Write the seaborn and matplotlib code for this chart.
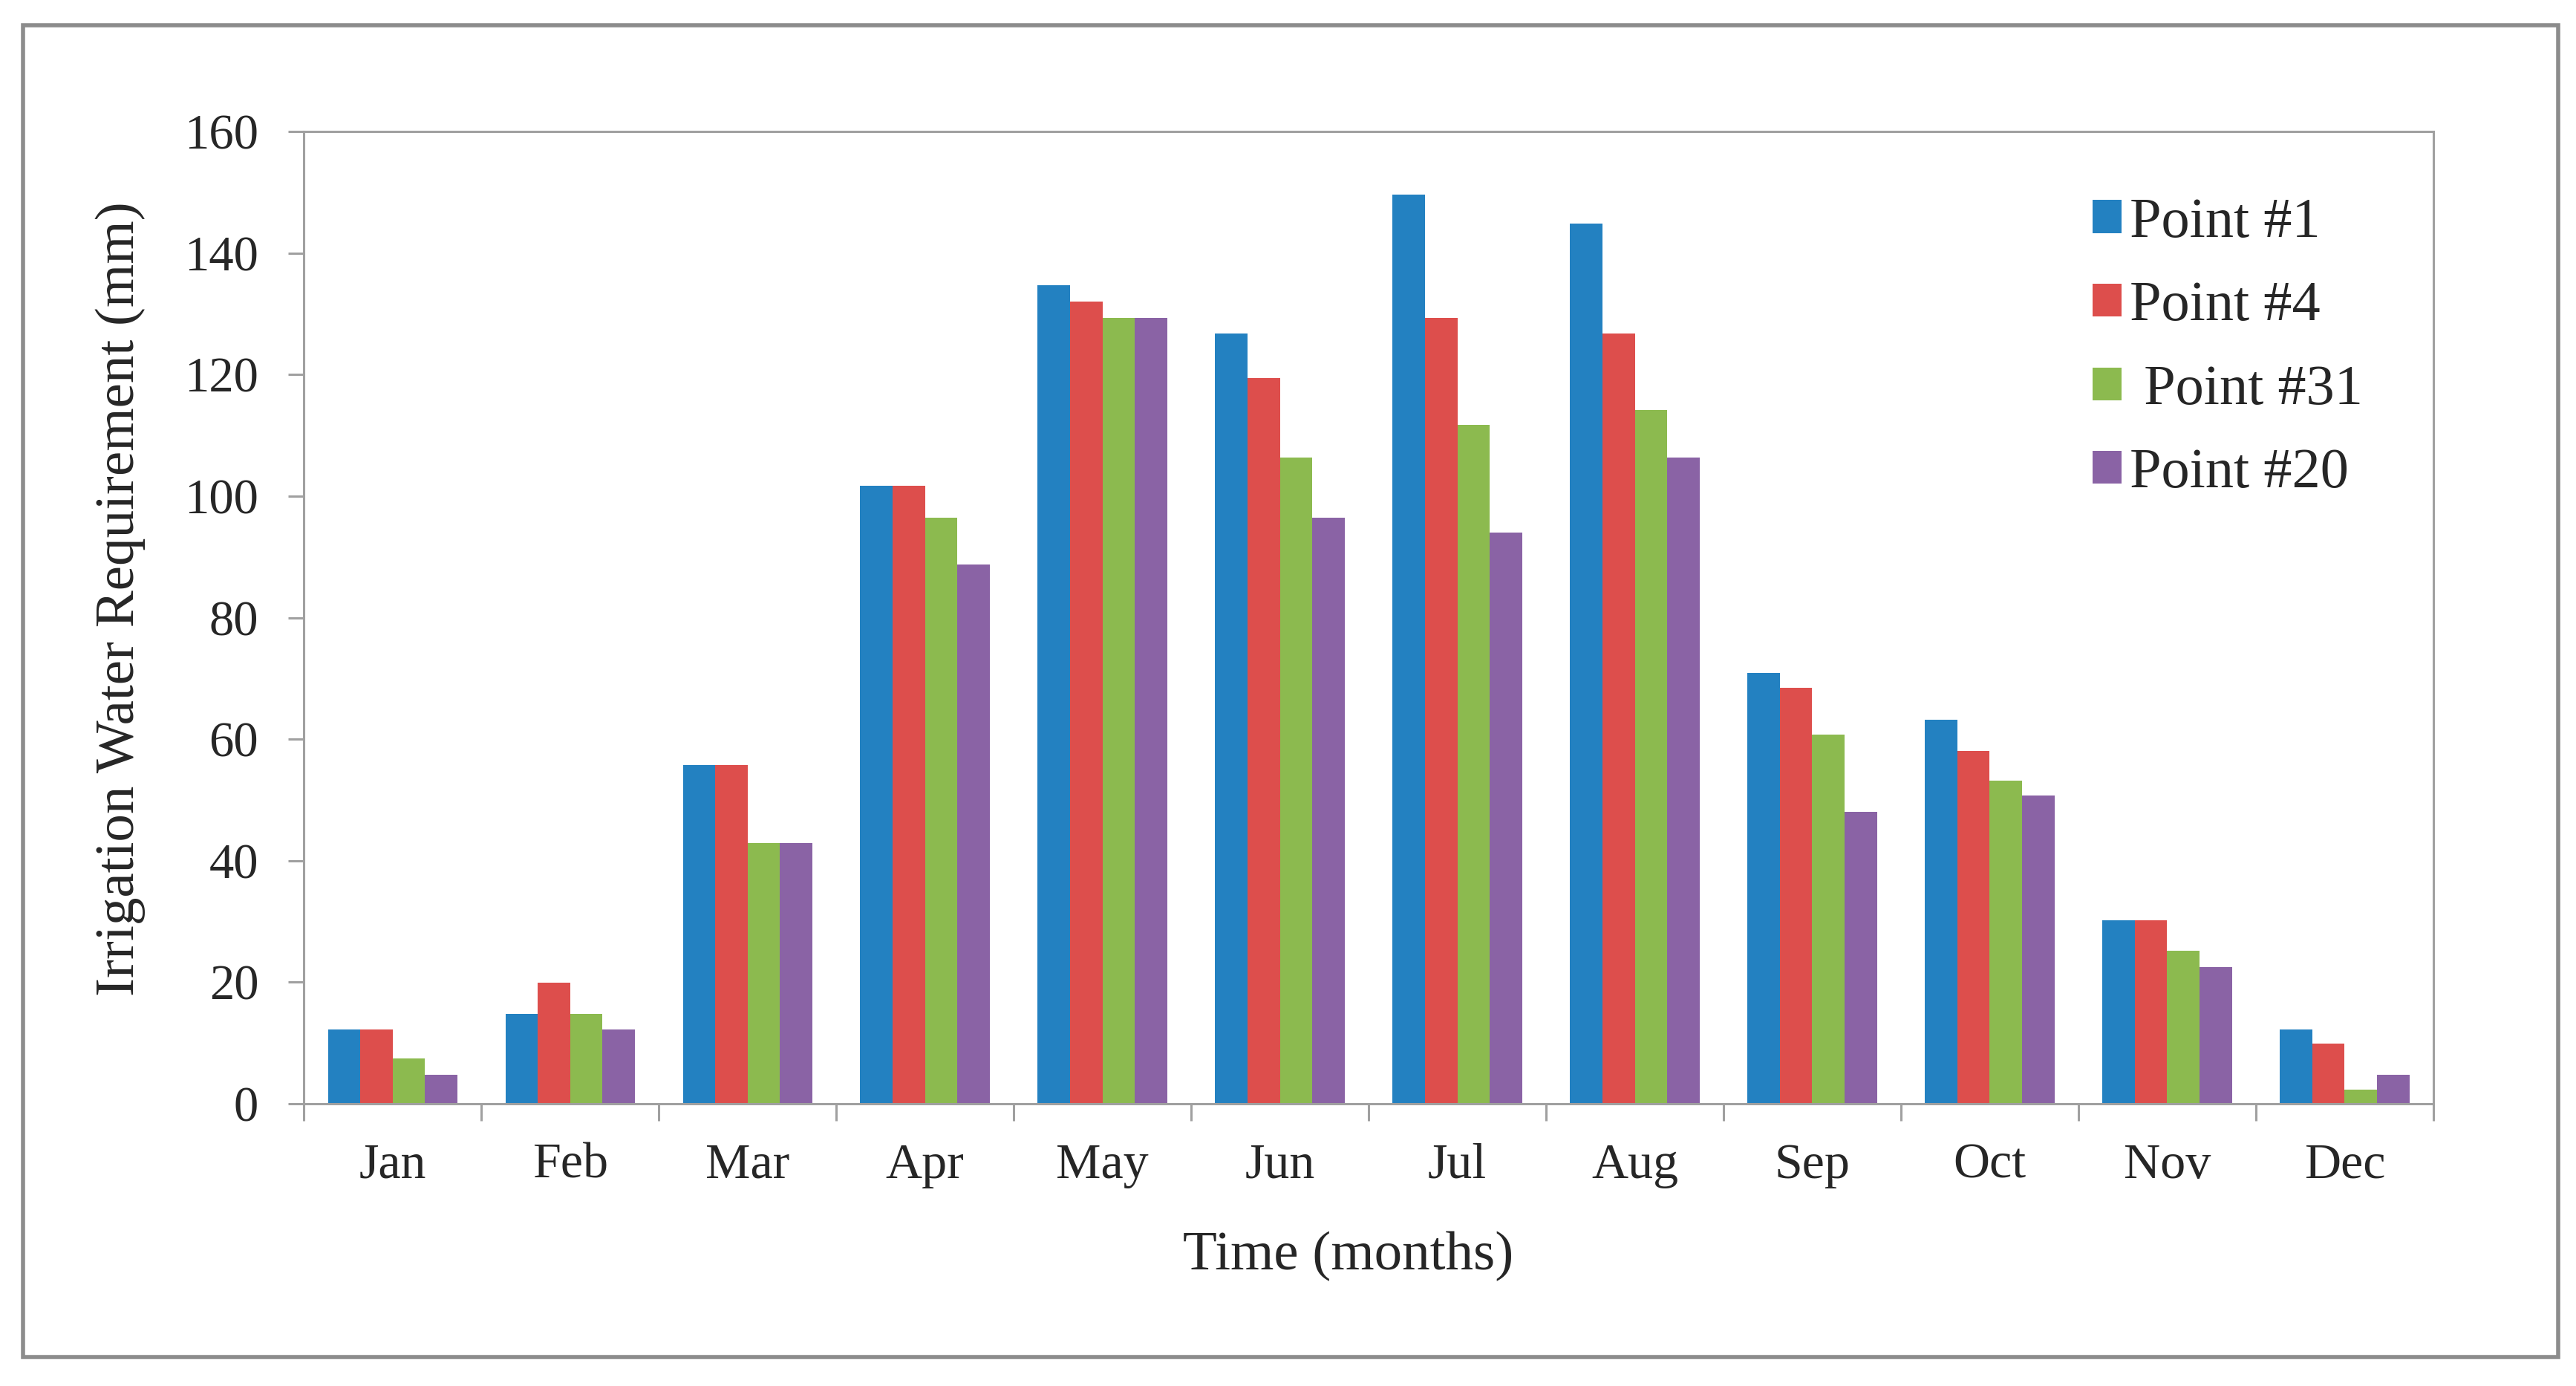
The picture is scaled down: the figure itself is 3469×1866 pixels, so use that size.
import numpy as np
import pandas as pd
import seaborn as sns
import matplotlib.pyplot as plt
from matplotlib.patches import Rectangle

# -----------------------------
# Data
# -----------------------------
months = ['Jan', 'Feb', 'Mar', 'Apr', 'May', 'Jun', 'Jul', 'Aug', 'Sep', 'Oct', 'Nov', 'Dec']
point_names = ['Point #1', 'Point #4', ' Point #31', 'Point #20']

point_1 = [12.2, 14.8, 55.8, 101.7, 134.7, 126.8, 149.7, 144.9, 70.9, 63.2, 30.2, 12.2]
point_4 = [12.2, 19.9, 55.8, 101.7, 132.0, 119.4, 129.4, 126.8, 68.4, 58.1, 30.2, 9.9]
point_31 = [7.4, 14.8, 42.9, 96.5, 129.4, 106.4, 111.7, 114.2, 60.7, 53.2, 25.2, 2.3]
point_20 = [4.8, 12.2, 42.9, 88.8, 129.4, 96.5, 94.0, 106.4, 48.0, 50.7, 22.5, 4.8]

bar_colors = ['#2381C1', '#DD4E4C', '#8CBA4F', '#8A63A5']

# long format table for seaborn
df = pd.DataFrame({
    'MONTH': months * 4,
    'POINT': np.repeat(point_names, len(months)),
    'IWR': point_1 + point_4 + point_31 + point_20,
})

# -----------------------------
# Style
# -----------------------------
sns.set_style('white')
plt.rcParams['font.family'] = ['Liberation Serif', 'DejaVu Serif']

fig = plt.figure(figsize=(34.69, 18.66), dpi=100)
ax = fig.add_axes([0.118, 0.2037, 0.8266, 0.7013])

sns.barplot(
    data=df,
    x='MONTH',
    y='IWR',
    hue='POINT',
    order=months,
    hue_order=point_names,
    palette=bar_colors,
    saturation=1,
    width=0.73,
    gap=0,
    linewidth=0,
    errorbar=None,
    ax=ax,
)

ax.set_xlim(-0.5, 11.5)
ax.set_ylim(0, 160)
ax.set_yticks(range(0, 161, 20))

# tick marks sit between month groups
ax.set_xticks(np.arange(-0.5, 12, 1), minor=True)
ax.tick_params(axis='x', which='major', length=0, pad=38, labelsize=49)
ax.tick_params(axis='x', which='minor', length=16.5, width=2.2, color='#a0a0a0', direction='out')
ax.tick_params(axis='y', length=15, width=2.2, color='#a0a0a0', direction='out', pad=29, labelsize=48)
ax.xaxis.set_ticks_position('bottom')
ax.yaxis.set_ticks_position('left')

for side in ['left', 'right', 'top', 'bottom']:
    ax.spines[side].set_visible(True)
    ax.spines[side].set_color('#a0a0a0')
    ax.spines[side].set_linewidth(2.2)

ax.set_xlabel('Time (months)', fontsize=54)
ax.set_ylabel('Irrigation Water Requirement (mm)', fontsize=54)
ax.xaxis.set_label_coords(0.5233, 0.0933, transform=fig.transFigure)
ax.yaxis.set_label_coords(0.0467, 0.568, transform=fig.transFigure)
ax.xaxis.label.set_va('center')
ax.yaxis.label.set_va('center')

ax.legend(
    loc='upper left',
    bbox_to_anchor=(0.840, 0.9325),
    frameon=False,
    fontsize=55,
    handlelength=0.51,
    handleheight=0.51,
    handletextpad=0.15,
    labelspacing=0.57,
    borderpad=0,
    borderaxespad=0,
)

# grey frame around the whole figure
fig.patches.append(Rectangle((0.009, 0.021), 0.984, 0.961, transform=fig.transFigure,
                             fill=False, edgecolor='#8c8c8c', linewidth=4))

plt.savefig('out.png', dpi=100)
